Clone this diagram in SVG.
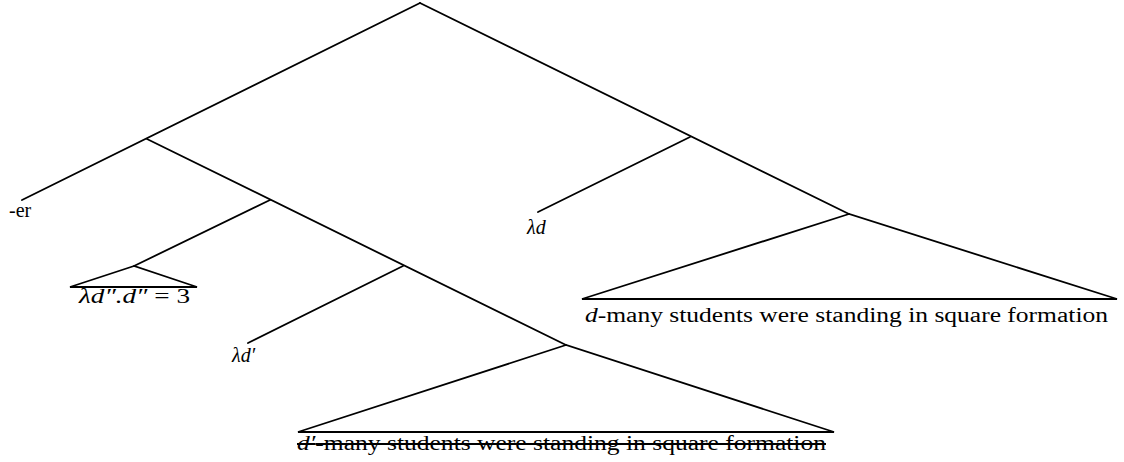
<svg xmlns="http://www.w3.org/2000/svg" width="1124" height="462" viewBox="0 0 1124 462">
<style>
.e{stroke:#000;stroke-width:1.8;fill:none;stroke-linecap:round}
.t{font-family:"Liberation Serif","DejaVu Serif",serif;font-size:20px;fill:#000}
.i{font-style:italic}
</style>
<rect width="1124" height="462" fill="#fff"/>
<g id="connectors">
<line class="e" x1="420" y1="3" x2="22" y2="200"/>
<line class="e" x1="420" y1="3" x2="849" y2="214"/>
<line class="e" x1="147" y1="139" x2="566" y2="345"/>
<line class="e" x1="270" y1="200" x2="134" y2="266"/>
<line class="e" x1="403" y1="266" x2="248" y2="343"/>
<line class="e" x1="690" y1="137" x2="538" y2="212"/>
</g>
<g id="node-er"><text class="t" x="9" y="217">-er</text></g>
<g id="node-ld2">
<polygon class="e" points="134,266 70,287 197,287"/>
<text class="t" x="79" y="303" textLength="111" lengthAdjust="spacingAndGlyphs"><tspan class="i">λd″.d″</tspan> = 3</text>
</g>
<g id="node-ld1"><text class="t i" x="232" y="362">λd′</text></g>
<g id="node-tri1">
<polygon class="e" points="566,345 298,432 834,432"/>
<text class="t" x="297" y="450" textLength="529" lengthAdjust="spacingAndGlyphs" text-decoration="line-through"><tspan class="i">d′</tspan>-many students were standing in square formation</text>
</g>
<g id="node-ld"><text class="t i" x="527" y="234">λd</text></g>
<g id="node-tri2">
<polygon class="e" points="849,214 582,299 1117,299"/>
<text class="t" x="585" y="322" textLength="523" lengthAdjust="spacingAndGlyphs"><tspan class="i">d</tspan>-many students were standing in square formation</text>
</g>
</svg>
